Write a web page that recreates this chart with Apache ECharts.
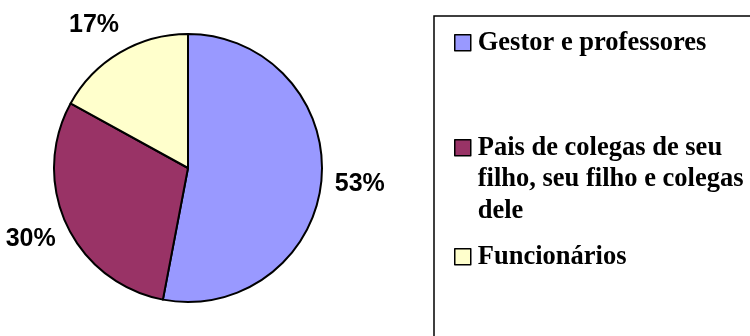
<!DOCTYPE html>
<html>
<head>
<meta charset="utf-8">
<script src="https://cdn.jsdelivr.net/npm/echarts@6/dist/echarts.min.js"></script>
<style>
  html, body { margin: 0; padding: 0; background: #fff; }
  #chart { width: 750px; height: 336px; }
</style>
</head>
<body>
<div id="chart"></div>
<script>
// Share of each group (percent)
const categories = ['Gestor e professores', 'Pais de colegas de seu filho, seu filho e colegas dele', 'Funcionários'];
const values = [53, 30, 17];
const colors = ['#9999FF', '#993366', '#FFFFCC'];
// Legend text, wrapped as it appears in the box; the two leading blank
// lines keep the marker level with the first line of the wrapped entry
const legendLabels = ['Gestor e professores', '\n\nPais de colegas de seu\nfilho, seu filho e colegas\ndele', 'Funcionários'];

const legendFont = {
  fontFamily: 'Liberation Serif, Times New Roman, serif',
  fontWeight: 'bold',
  fontSize: 26.5,
  color: '#000',
  lineHeight: 31.5,
  padding: [0, 0, 0, 2]
};

// One legend per entry so each can sit at its own height in the box
const legendTops = [27, 69, 241];
const legends = categories.map((name, i) => ({
  data: [name],
  left: 454,
  top: legendTops[i],
  orient: 'vertical',
  padding: 0,
  icon: 'rect',
  itemWidth: 16,
  itemHeight: 16,
  itemStyle: { borderColor: '#000', borderWidth: 1.5 },
  selectedMode: false,
  formatter: () => legendLabels[i],
  textStyle: legendFont
}));

const chart = echarts.init(document.getElementById('chart'), null, { renderer: 'canvas' });
chart.setOption({
  animation: false,
  backgroundColor: '#fff',
  legend: legends,
  graphic: [{
    type: 'rect',
    shape: { x: 434, y: 16, width: 400, height: 400 },
    style: { fill: 'none', stroke: '#000', lineWidth: 1.5 },
    silent: true,
    z: -1
  }],
  series: [{
    type: 'pie',
    center: [188, 168],
    radius: 134,
    startAngle: 90,
    clockwise: true,
    avoidLabelOverlap: false,
    silent: true,
    data: categories.map((name, i) => ({ name, value: values[i], itemStyle: { color: colors[i] } })),
    itemStyle: { borderColor: '#000', borderWidth: 2 },
    label: {
      show: true,
      position: 'outside',
      formatter: '{c}%',
      fontFamily: 'Liberation Sans, Arial, sans-serif',
      fontWeight: 'bold',
      fontSize: 25,
      color: '#000'
    },
    labelLine: { show: true, length: 26, length2: 0, lineStyle: { color: 'rgba(0,0,0,0)' } },
    // place each percentage just beyond the end of its (hidden) leader line,
    // pushed outward by part of its own box
    labelLayout: function (p) {
      const pts = p.labelLinePoints;
      if (!pts) return {};
      const dx = pts[1][0] - pts[0][0];
      const dy = pts[1][1] - pts[0][1];
      const len = Math.hypot(dx, dy) || 1;
      const w = p.labelRect.width, h = p.labelRect.height;
      return {
        x: pts[1][0] + Math.sign(dx) * w / 4,
        y: pts[1][1] + (dy / len) * h / 4,
        align: 'center',
        verticalAlign: 'middle'
      };
    }
  }]
});
</script>
</body>
</html>
